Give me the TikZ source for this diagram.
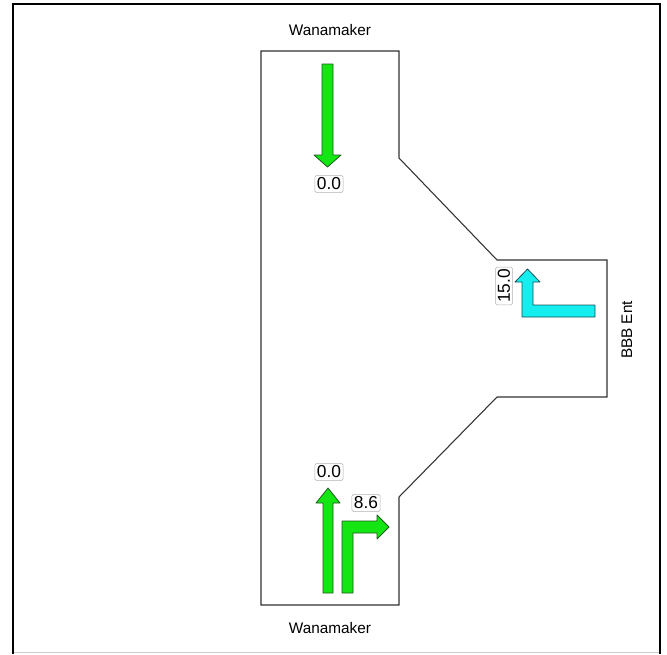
\documentclass[tikz,border=0pt]{standalone}
\usepackage{fontspec}
\setmainfont{Liberation Sans}
\usetikzlibrary{positioning}

\definecolor{lanegreen}{RGB}{20,230,20}
\definecolor{laneedge}{RGB}{30,90,30}
\definecolor{lanecyan}{RGB}{20,238,238}
\definecolor{cyanedge}{RGB}{20,80,90}
\definecolor{roadedge}{RGB}{50,50,50}

\tikzset{
    street/.style={font=\fontsize{11.5}{13}\selectfont, inner sep=0pt},
    volbox/.style={draw=gray!60, fill=white, rounded corners=1.2pt, inner xsep=1.5pt,
        inner ysep=1.8pt, font=\fontsize{13}{14}\selectfont},
    greenlane/.style={fill=lanegreen, draw=laneedge, line width=0.6pt, line join=round},
    cyanlane/.style={fill=lanecyan, draw=cyanedge, line width=0.6pt, line join=round}
}

\begin{document}
\begin{tikzpicture}[x=0.75pt, y=-0.75pt]
            \useasboundingbox (0,0) rectangle (667,654);
            % frame
            \fill[white] (13,4) rectangle (660,652);
            \draw[gray!40] (13,652) -- (660,652);
            \draw[line width=2pt] (13,654) -- (13,4) -- (660,4) -- (660,654);
            % road outline
            \draw[roadedge, line width=0.8pt]
                (261,51) -- (399,51) -- (399,158) -- (497,260) -- (607,260)
                -- (607,397) -- (497,397) -- (399,497) -- (399,605)
                -- (261,605) -- cycle;
            % street names
            \node[street] (northst) at (330,30) {Wanamaker};
            \node[street] (southst) at (330,628) {Wanamaker};
            \node[street, rotate=90] (eastst) at (627,330) {BBB Ent};
            % southbound, through
            \filldraw[greenlane] (322,64) -- (333,64) -- (333,155) -- (341,155)
                -- (327.5,167) -- (314,155) -- (322,155) -- cycle;
            \node[volbox] (sbthru) at (329,184) {0.0};
            % northbound, through and right
            \filldraw[greenlane] (323,593) -- (323,503) -- (316,503) -- (328,488)
                -- (340,503) -- (333,503) -- (333,593) -- cycle;
            \filldraw[greenlane] (342,593) -- (342,521) -- (377,521) -- (377,515)
                -- (389,527) -- (377,539) -- (377,533) -- (353,533) -- (353,593) -- cycle;
            \node[volbox] (nbthru) at (329,472) {0.0};
            \node[volbox] (nbright) at (366,503) {8.6};
            % westbound, right
            \filldraw[cyanlane] (522,317) -- (522,282) -- (515,282) -- (527.5,269)
                -- (540,282) -- (533,282) -- (533,305) -- (595,305) -- (595,317) -- cycle;
            \node[volbox, rotate=90] (wbright) at (504,286) {15.0};
        \end{tikzpicture}
\end{document}
